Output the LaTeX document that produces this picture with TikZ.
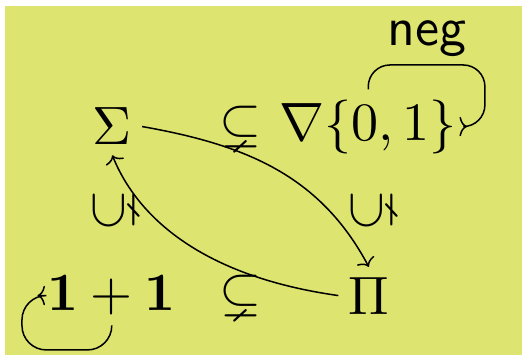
\documentclass[tikz,border=0pt]{standalone}
\usepackage{amsmath}
\usepackage{amssymb}
\usetikzlibrary{arrows.meta}
\definecolor{slidebg}{RGB}{221,228,112}
\begin{document}
\begin{tikzpicture}[x=1pt,y=1pt,
  obj/.style={inner sep=1.7pt},
  map/.style={-{To[width=3.6pt,length=1.4pt]},line width=0.28pt}]
\useasboundingbox (0,0) rectangle (96.67,65.74);
\fill[slidebg] (0.93,0) rectangle (96.67,64.63);
\node[obj] (sigma) at (20.8,42.3) {$\Sigma$};
\node[obj] (subtop) at (44.5,42.3) {$\subsetneq$};
\node[obj] (nabla) at (68.2,42.3) {$\nabla\{0,1\}$};
\node[obj,rotate=90] (subleft) at (21.1,26.7) {$\subsetneq$};
\node[obj,rotate=90] (subright) at (68.9,26.7) {$\subsetneq$};
\node[obj] (two) at (20.7,11.0) {$\mathbf{1}+\mathbf{1}$};
\node[obj] (subbot) at (44.5,11.0) {$\subsetneq$};
\node[obj] (pi) at (68.3,11.0) {$\Pi$};
\draw[map] (sigma.east) to[out=-10,in=118] (pi.north);
\draw[map] (pi.west) to[out=172,in=-68,out looseness=1.25,in looseness=0.7] (sigma.south);
\draw[map,rounded corners=4pt] (nabla.north) |- (89.8,53.7)
  node[pos=0.75,above,inner sep=1.5pt] (neglabel) {\textsf{neg}}
  |- (nabla.east);
\draw[map,rounded corners=4.5pt] (two.south) |- (4.07,0.93) |- (two.west);
\end{tikzpicture}
\end{document}
